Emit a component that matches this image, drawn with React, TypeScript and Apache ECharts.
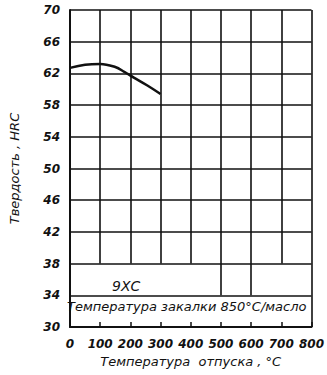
import React, { useEffect, useRef } from "react";
import * as echarts from "echarts";

const temperatures = [0, 50, 100, 150, 180, 210, 255, 300];
const hardness = [62.7, 63.1, 63.2, 62.8, 62.2, 61.5, 60.5, 59.4];

const xTicks = [0, 100, 200, 300, 400, 500, 600, 700, 800];
const gridColumnsX = [100, 200, 300, 400, 500, 600, 700, 800];
const gridColumnsFrom = [38, 38, 38, 38, 34, 34, 38, 30];

const yTitle = "Твердость , HRC";
const xTitle = "Температура  отпуска , °С";
const steelLabel = "9ХС";
const quenchLabel = "Температура закалки 850°С/масло";

const FONT = "DejaVu Sans";

export default function App() {
  const ref = useRef<HTMLDivElement>(null);
  useEffect(() => {
    if (!ref.current) return;
    const chart = echarts.init(ref.current, null, { renderer: "svg" });
    const labelStyle = {
      color: "#111",
      fontFamily: FONT,
      fontStyle: "italic" as const,
      fontWeight: "bold" as const,
      fontSize: 12,
    };
    chart.setOption({
      animation: false,
      backgroundColor: "#fff",
      grid: { left: 62, top: 10, right: 15, bottom: 48, containLabel: false },
      xAxis: {
        type: "value",
        min: 0,
        max: 800,
        interval: 100,
        name: xTitle,
        nameLocation: "middle",
        nameGap: 28,
        nameTextStyle: { ...labelStyle, fontWeight: "normal", fontSize: 13 },
        axisLine: { show: true, lineStyle: { color: "#111", width: 2 } },
        axisTick: { show: true, inside: true, length: 5, lineStyle: { color: "#111", width: 1.5 } },
        axisLabel: { ...labelStyle, margin: 11, formatter: (v: number) => (xTicks.includes(v) ? String(v) : "") },
        splitLine: { show: false },
      },
      yAxis: {
        type: "value",
        min: 30,
        max: 70,
        interval: 4,
        name: yTitle,
        nameLocation: "middle",
        nameGap: 49,
        nameRotate: 90,
        nameTextStyle: { ...labelStyle, fontWeight: "normal", fontSize: 13 },
        axisLine: { show: true, lineStyle: { color: "#111", width: 2 } },
        axisTick: { show: false },
        axisLabel: { ...labelStyle, margin: 10 },
        splitLine: { show: true, lineStyle: { color: "#111", width: 1.6 } },
      },
      series: [
        {
          type: "line",
          data: temperatures.map((t, i) => [t, hardness[i]]),
          smooth: 0.4,
          symbol: "none",
          lineStyle: { color: "#111", width: 2.5 },
          markLine: {
            silent: true,
            symbol: ["none", "none"],
            label: { show: false },
            lineStyle: { color: "#111", width: 1.6, type: "solid" },
            data: gridColumnsX.map((x, i) => [
              { coord: [x, gridColumnsFrom[i]] },
              { coord: [x, 70] },
            ]),
          },
        },
      ],
      graphic: [
        {
          type: "text",
          left: 112,
          top: 279,
          style: { text: steelLabel, fill: "#111", font: `italic 14px "${FONT}"` },
        },
        {
          type: "text",
          left: 67,
          top: 300,
          style: { text: quenchLabel, fill: "#111", font: `italic 13px "${FONT}"` },
        },
      ],
    });
    return () => chart.dispose();
  }, []);
  return <div ref={ref} style={{ width: 327, height: 375, position: "absolute", left: 0, top: 0 }} />;
}
